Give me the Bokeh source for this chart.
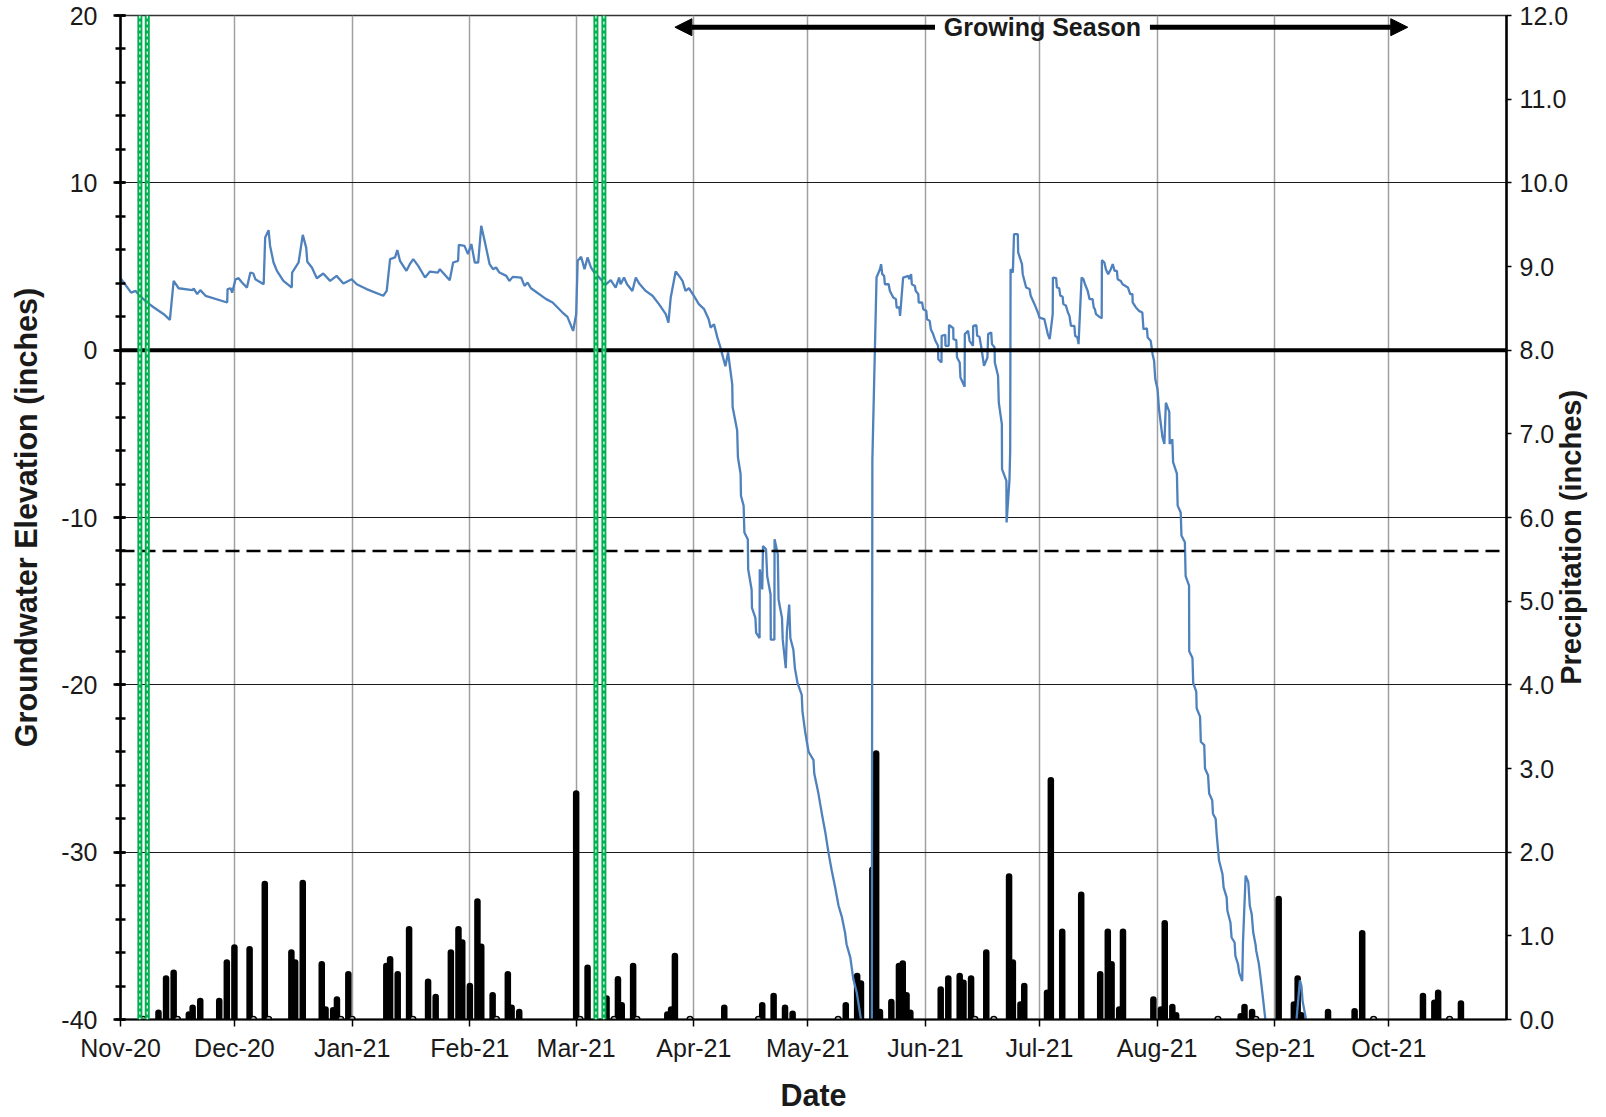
import math
import pandas as pd
from bokeh.plotting import figure
from bokeh.models import (Range1d, LinearAxis, FixedTicker, DatetimeTickFormatter,
                          NumeralTickFormatter, Span, Arrow, NormalHead, Label,
                          ColumnDataSource)
from bokeh.embed import file_html
from bokeh.resources import INLINE

# ---------------- data ----------------
START = pd.Timestamp("2020-11-01")
END = pd.Timestamp("2021-11-01")
month_ticks = ["2020-11-01", "2020-12-01", "2021-01-01", "2021-02-01", "2021-03-01",
               "2021-04-01", "2021-05-01", "2021-06-01", "2021-07-01", "2021-08-01",
               "2021-09-01", "2021-10-01"]
gw_ticks = [-40, -30, -20, -10, 0, 10, 20]
precip_ticks = [0, 1, 2, 3, 4, 5, 6, 7, 8, 9, 10, 11, 12]

# groundwater elevation (inches), day offset from 2020-11-01
gw_day = [0, 2.8, 4.0, 5.1, 7.0, 8.8, 11.4, 13.0, 14.0, 15.3, 18.9, 19.3, 20.2, 21.0, 22.4,
          28.1, 28.2, 29.0, 29.4, 30.3, 31.1, 32.0, 33.3, 34.2, 35.0, 35.5, 37.7, 38.1, 39.0,
          39.4, 40.3, 41.2, 42.9, 45.1, 45.2, 46.9, 48.0, 48.9, 49.2, 50.4, 51.7, 53.4, 55.2,
          56.9, 58.7, 60.9, 62.2, 64.8, 69.2, 70.1, 71.0, 72.3, 72.9, 73.6, 75.3, 76.2, 77.1,
          78.4, 80.2, 81.5, 83.6, 84.1, 86.7, 87.6, 88.9, 89.1, 90.6, 91.5, 92.4, 93.3, 94.2,
          95.0, 95.9, 97.2, 98.1, 98.9, 99.8, 101.6, 102.4, 103.3, 105.5, 106.4, 107.2, 108.1,
          112.1, 113.8, 116.4, 117.7, 119.2, 120.0, 120.4, 121.3, 122.2, 123.0, 123.9, 124.8,
          126.9, 127.4, 129.1, 130.4, 131.3, 131.7, 132.6, 133.4, 134.8, 135.7, 136.6, 138.3,
          140.1, 141.8, 143.6, 144.3, 144.9, 146.2, 147.1, 148.0, 148.8, 149.7, 151.0, 152.3,
          153.7, 154.9, 155.4, 156.3, 157.2, 158.0, 159.3, 160.0, 161.1, 161.2, 162.4, 162.6,
          163.3, 163.4, 164.1, 164.3, 165.2, 165.3, 166.2, 166.3, 167.2, 167.4, 168.3, 168.35,
          169.0, 169.2, 170.0, 170.3, 171.2, 171.25, 172.2, 172.25, 173.1, 173.3, 174.2, 174.4,
          175.2, 175.5, 176.1, 176.4, 177.2, 177.6, 178.3, 179.4, 179.6, 180.3, 181.2, 182.5,
          182.7, 183.8, 184.7, 185.6, 186.5, 187.3, 188.2, 189.1, 190.0, 190.8, 191.2, 192.2,
          193.0, 193.9, 195.0, 196.0, 197.85, 198.0, 199.1, 200.0, 200.3, 200.6, 201.1, 201.3,
          202.3, 202.6, 203.5, 204.2, 204.4, 205.1, 205.3, 206.1, 207.5, 207.7, 208.2, 208.4,
          209.2, 209.4, 210.1, 210.2, 211.1, 211.4, 212.2, 212.4, 213.1, 213.4, 214.0, 214.6,
          215.3, 215.35, 216.2, 216.25, 217.2, 217.25, 218.1, 218.2, 219.3, 219.35, 220.1,
          220.3, 221.0, 221.2, 222.3, 222.35, 223.2, 223.6, 224.5, 224.55, 225.4, 225.6, 226.2,
          226.7, 227.4, 228.3, 228.5, 229.3, 229.5, 230.2, 230.25, 231.1, 231.3, 232.1, 232.15,
          233.3, 233.35, 234.1, 234.3, 234.4, 235.0, 235.3, 236.3, 236.4, 237.4, 237.6, 238.5,
          239.4, 239.7, 240.7, 241.6, 242.0, 243.3, 244.2, 244.7, 245.5, 245.55, 246.4, 246.6,
          247.2, 247.5, 248.1, 248.3, 249.0, 249.5, 249.9, 250.3, 251.2, 251.4, 252.0, 252.3,
          253.1, 253.6, 254.0, 254.7, 255.2, 256.0, 256.3, 256.6, 256.9, 257.8, 258.4, 258.45,
          259.1, 259.5, 260.1, 260.8, 261.3, 261.8, 262.4, 262.6, 263.4, 263.9, 265.3, 265.9,
          266.5, 266.55, 267.4, 268.2, 269.1, 269.4, 270.3, 270.5, 271.3, 271.8, 272.2, 272.5,
          273.1, 273.5, 274.4, 274.9, 275.3, 276.2, 276.3, 277.0, 277.2, 278.2, 278.4, 279.2,
          279.4, 280.3, 280.5, 281.4, 281.45, 282.3, 282.5, 283.3, 283.4, 284.3, 284.5, 285.4,
          285.6, 286.4, 286.7, 287.5, 287.7, 288.4, 288.7, 289.3, 290.2, 290.5, 291.3, 291.5,
          292.3, 292.6, 293.4, 293.6, 294.3, 294.6, 295.4, 295.6, 296.3, 297.0, 297.4, 297.9,
          298.3, 298.9, 299.1, 299.8, 300.3, 300.7, 301.5, 302.5, 309.5, 309.7, 310.6, 311.0,
          311.3, 311.8, 312.2, 312.5]
gw_value = [4.3, 3.44, 3.54, 3.24, 2.85, 2.55, 2.15, 1.81, 4.14, 3.7, 3.59, 3.68, 3.35, 3.59, 3.25,
            2.85, 3.65, 3.7, 3.44, 4.24, 4.3, 4.04, 3.74, 4.64, 4.58, 4.24, 3.94, 6.73, 7.17,
            6.23, 5.24, 4.74, 4.14, 3.74, 4.64, 5.24, 6.89, 6.13, 5.28, 4.94, 4.3, 4.58, 4.14,
            4.44, 3.98, 4.24, 3.94, 3.65, 3.25, 3.54, 5.44, 5.54, 5.98, 5.34, 4.74, 5.14, 5.44,
            5.04, 4.34, 4.7, 4.64, 4.84, 4.18, 5.24, 5.34, 6.29, 6.23, 5.74, 6.34, 5.24, 5.24,
            7.43, 6.53, 5.14, 4.84, 4.94, 4.64, 4.44, 4.14, 4.38, 4.34, 3.84, 4.04, 3.7,
            3.05, 2.85, 2.25, 1.99, 1.15, 2.15, 5.34, 5.58, 4.84, 5.54, 4.94, 4.64,
            4.14, 3.84, 4.18, 3.74, 4.34, 3.94, 4.34, 3.94, 3.54, 4.34, 3.98, 3.54,
            3.25, 2.75, 2.15, 1.65, 3.15, 4.7, 4.44, 4.14, 3.54, 3.7, 3.25, 2.75,
            2.45, 1.85, 1.35, 1.55, 0.75, 0.15, -0.96, -0.14, -2.05, -3.4, -4.8, -6.4,
            -7.4, -8.7, -9.3, -10.9, -11.3, -13.1, -14.3, -15.4, -16.0, -16.9, -17.2, -13.1,
            -14.3, -11.7, -11.9, -13.5, -14.6, -17.3, -17.3, -11.3, -12.2, -14.9, -16.0, -17.3,
            -19.0, -16.8, -15.2, -17.2, -17.9, -19.0, -19.9, -20.6, -21.6, -22.8, -24.0, -24.5,
            -25.3, -26.5, -27.7, -28.8, -30.1, -31.1, -32.1, -33.2, -33.9, -34.8, -35.5, -36.3,
            -37.6, -38.4, -40.0, -42.0, -42.0, -6.6, 4.34, 4.84, 5.14, 4.54, 4.44, 3.94,
            3.94, 3.55, 3.15, 3.05, 2.55, 2.55, 2.05, 4.34, 4.44, 4.24, 4.54, 3.94,
            3.84, 3.55, 3.35, 2.85, 2.85, 2.45, 2.35, 1.85, 1.75, 1.25, 0.96, 0.56,
            0.26, -0.54, -0.74, 0.86, 0.92, 0.26, 0.26, 1.51, 1.31, 0.66, 0.6,
            -0.44, -0.74, -1.63, -2.19, 0.96, 1.16, 0.56, 0.26, 1.45, 1.49, 0.86, 0.8,
            0.16, -0.94, -0.44, 0.96, 1.06, 0.36, 0.16, -0.74, -1.53, -3.13, -4.42, -7.11,
            -7.81, -10.3, -7.8, -6.0, 4.84, 4.64, 6.93, 6.93, 5.84, 5.14, 4.54, 3.75,
            3.65, 3.25, 2.75, 2.25, 1.95, 1.85, 0.96, 0.66, 2.15, 4.34, 4.3, 3.75,
            3.7, 3.25, 3.2, 2.75, 2.65, 2.25, 2.05, 1.45, 1.45, 0.86, 0.76, 0.36,
            4.34, 4.24, 3.94, 3.55, 3.05, 3.05, 2.55, 2.45, 2.15, 1.99, 1.91, 5.38,
            5.24, 4.84, 4.54, 4.84, 5.14, 4.74, 4.74, 4.24, 4.14, 3.94, 3.75, 3.35,
            3.35, 2.85, 2.55, 2.35, 2.25, 1.25, 1.31, 0.76, 0.56, -0.24, -0.64, -1.73,
            -2.33, -3.55, -5.2, -5.6, -3.14, -3.69, -5.6, -5.33, -6.69, -7.38, -9.29, -9.7,
            -11.07, -11.48, -13.5, -14.07, -18.0, -18.4, -19.9, -20.4, -21.4, -21.9, -23.4, -23.6,
            -25.0, -25.4, -26.5, -26.9, -27.7, -28.0, -29.0, -30.5, -31.3, -32.1, -32.7, -33.5,
            -34.2, -35.1, -35.4, -36.2, -36.7, -37.2, -37.7, -35.4, -31.4, -31.8, -33.2, -33.7,
            -34.8, -35.5, -35.9, -36.7, -37.6, -38.4, -40.0, -42.0, -42.0, -40.0, -37.66, -38.0,
            -38.9, -39.5, -40.0, -40.6]

# daily precipitation (inches), day offset from 2020-11-01
precip_day = [10, 12, 14, 18, 19, 21, 26, 28, 30, 34, 38, 45, 46, 48, 53, 54, 56, 57, 60,
              70, 71, 73, 76, 81, 83, 87, 89, 90, 92, 94, 95, 98, 102, 103, 105, 120, 123,
              128, 131, 132, 135, 144, 145, 146, 159, 169, 172, 175, 177, 191, 194, 195, 198,
              199, 200, 203, 205, 206, 207, 208, 216, 218, 221, 222, 224, 228, 234, 235, 237,
              238, 244, 245, 248, 253, 258, 260, 261, 263, 264, 272, 274, 275, 277, 278, 295,
              296, 298, 305, 309, 310, 311, 318, 325, 327, 343, 346, 347, 353]
precip_in = [0.08, 0.49, 0.56, 0.06, 0.14, 0.22, 0.22, 0.68, 0.86, 0.84, 1.62, 0.80, 0.68, 1.63,
             0.66, 0.12, 0.11, 0.24, 0.54, 0.64, 0.72, 0.54, 1.08, 0.45, 0.27, 0.80, 1.08, 0.92,
             0.40, 1.41, 0.87, 0.29, 0.54, 0.14, 0.09, 2.70, 0.62, 0.25, 0.48, 0.17, 0.64, 0.06,
             0.12, 0.76, 0.14, 0.17, 0.28, 0.14, 0.07, 0.17, 0.52, 0.43, 1.79, 3.18, 0.09, 0.21,
             0.64, 0.67, 0.29, 0.08, 0.36, 0.49, 0.52, 0.44, 0.49, 0.80, 1.71, 0.68, 0.18, 0.40,
             0.32, 2.86, 1.05, 1.49, 0.54, 1.05, 0.66, 0.12, 1.05, 0.24, 0.12, 1.15, 0.15, 0.05,
             0.04, 0.15, 0.09, 1.44, 0.18, 0.49, 0.05, 0.09, 0.10, 1.03, 0.28, 0.20, 0.32, 0.19]
# days with a zero/trace reading (small open markers on the baseline)
trace_day = [6, 15, 35, 39, 58, 61, 77, 99, 121, 130, 136, 150, 168, 189, 225, 230, 289, 299,
             330, 350]

# green double marker lines (day offsets)
marker_day = [5.1, 7.05, 125.2, 127.3]
# growing season
growing_season = ["2021-03-27", "2021-10-06"]
GROWING_LABEL = "Growing Season"
RIGHT_TITLE = "Precipitation (inches)"

# ---------------- layout constants ----------------
ARROW_Y = 19.3
TEXT_GAP_DAYS = [214.5, 271.1]      # where the arrows stop either side of the label
RIGHT_TITLE_START = 4                # precip level where the bottom-to-top title starts
FONT = "Liberation Sans"
TICK_FS = "25px"
TITLE_FS = "30.5px"
RIGHT_TITLE_FS = "29px"


def to_dt(days):
    return START + pd.to_timedelta(pd.Series(days, dtype=float), unit="D")


def to_ms(ts):
    return pd.Timestamp(ts).value / 1e6


gw = ColumnDataSource(dict(x=to_dt(gw_day), y=gw_value))
pr = ColumnDataSource(dict(x=to_dt(precip_day), y0=[0] * len(precip_in), y=precip_in))
tr = ColumnDataSource(dict(x=to_dt(trace_day), y=[0] * len(trace_day)))

p = figure(width=1606, height=1114, x_axis_type="datetime",
           x_range=Range1d(START, END), y_range=Range1d(-40, 20),
           output_backend="svg", toolbar_location=None,
           min_border_left=120, min_border_right=100, min_border_top=15, min_border_bottom=95)
p.extra_y_ranges = {"precip": Range1d(0, 12)}
p.background_fill_color = "white"
p.outline_line_color = "#333333"
p.outline_line_width = 1.5

month_ms = [to_ms(m) for m in month_ticks]

# grids
p.xgrid.ticker = FixedTicker(ticks=month_ms)
p.xgrid.grid_line_color = "#a0a0a0"
p.xgrid.grid_line_width = 1.5
p.ygrid.ticker = FixedTicker(ticks=[t for t in gw_ticks if t not in (0, 20, -40)])
p.ygrid.grid_line_color = "#1a1a1a"
p.ygrid.grid_line_width = 1

# x axis
xa = p.xaxis[0]
xa.ticker = FixedTicker(ticks=month_ms)
fmt = "%b-%y"
xa.formatter = DatetimeTickFormatter(milliseconds=fmt, seconds=fmt, minsec=fmt, minutes=fmt,
                                     hourmin=fmt, hours=fmt, days=fmt, months=fmt, years=fmt)
xa.axis_line_width = 2
xa.major_tick_line_width = 1.5
xa.major_tick_out = 7
xa.major_tick_in = 0
xa.minor_tick_line_color = None
xa.major_label_text_font = FONT
xa.major_label_text_font_size = TICK_FS
xa.major_label_text_color = "#1a1a1a"
xa.major_label_standoff = 7
xa.axis_label = "Date"
xa.axis_label_text_font = FONT
xa.axis_label_text_font_size = TITLE_FS
xa.axis_label_text_font_style = "bold"
xa.axis_label_text_color = "#1a1a1a"
xa.axis_label_standoff = 13

# left axis
ya = p.yaxis[0]
ya.ticker = FixedTicker(ticks=gw_ticks, minor_ticks=list(range(-40, 21, 2)))
ya.major_label_overrides = {t: str(t) for t in gw_ticks}
ya.axis_line_width = 2.5
ya.major_tick_line_width = 2.5
ya.minor_tick_line_width = 2.5
ya.major_tick_out = 7
ya.major_tick_in = 5
ya.minor_tick_out = 5
ya.minor_tick_in = 5
ya.major_label_text_font = FONT
ya.major_label_text_font_size = TICK_FS
ya.major_label_text_color = "#1a1a1a"
ya.major_label_standoff = 16
ya.axis_label = "Groundwater Elevation (inches)"
ya.axis_label_text_font = FONT
ya.axis_label_text_font_size = TITLE_FS
ya.axis_label_text_font_style = "bold"
ya.axis_label_text_color = "#1a1a1a"
ya.axis_label_standoff = 15

# right axis (precipitation)
ra = LinearAxis(y_range_name="precip",
                ticker=FixedTicker(ticks=precip_ticks),
                formatter=NumeralTickFormatter(format="0.0"))
ra.axis_line_width = 2.5
ra.major_tick_line_width = 1.5
ra.major_tick_out = 5
ra.major_tick_in = 0
ra.minor_tick_line_color = None
ra.major_label_text_font = FONT
ra.major_label_text_font_size = TICK_FS
ra.major_label_text_color = "#1a1a1a"
ra.major_label_standoff = 8
p.add_layout(ra, "right")

# right-axis title, reading bottom to top (drawn as a single rotated label on a bare axis)
rt = LinearAxis(y_range_name="precip", ticker=FixedTicker(ticks=[RIGHT_TITLE_START]),
                major_label_overrides={RIGHT_TITLE_START: RIGHT_TITLE})
rt.axis_line_color = None
rt.major_tick_line_color = None
rt.minor_tick_line_color = None
rt.major_tick_out = 0
rt.major_tick_in = 0
rt.major_label_orientation = math.pi / 2
rt.major_label_standoff = 0
rt.major_label_text_font = FONT
rt.major_label_text_font_size = RIGHT_TITLE_FS
rt.major_label_text_font_style = "bold"
rt.major_label_text_color = "#1a1a1a"
p.add_layout(rt, "right")

# reference lines
p.add_layout(Span(location=0, dimension="width", line_color="black", line_width=4))
p.add_layout(Span(location=-12, dimension="width", line_color="black", line_width=2.5,
                  line_dash="14 7"))

# precipitation bars
p.segment(x0="x", y0="y0", x1="x", y1="y", source=pr, line_color="black", line_width=6.5,
          line_cap="round", y_range_name="precip")
p.scatter(x="x", y="y", source=tr, marker="circle", size=6, fill_color="white",
          line_color="black", line_width=1.5, y_range_name="precip")

# green marker lines
for d in marker_day:
    loc = to_ms(START + pd.Timedelta(days=d))
    p.add_layout(Span(location=loc, dimension="height", line_color="#00b050", line_width=5))
    p.add_layout(Span(location=loc, dimension="height", line_color="white", line_width=1.2,
                      line_dash="3 3"))

# groundwater line
p.line(x="x", y="y", source=gw, line_color="#4f81bd", line_width=2.3)

# growing season arrows
gs0, gs1 = to_ms(growing_season[0]), to_ms(growing_season[1])
g0 = to_ms(START + pd.Timedelta(days=TEXT_GAP_DAYS[0]))
g1 = to_ms(START + pd.Timedelta(days=TEXT_GAP_DAYS[1]))
for xs, xe in [(g0, gs0), (g1, gs1)]:
    p.add_layout(Arrow(x_start=xs, y_start=ARROW_Y, x_end=xe, y_end=ARROW_Y,
                       line_color="black", line_width=5,
                       end=NormalHead(size=17, fill_color="black", line_color="black")))
p.add_layout(Label(x=(g0 + g1) / 2, y=ARROW_Y, text=GROWING_LABEL, text_align="center",
                   text_baseline="middle", text_font=FONT, text_font_size="25px",
                   text_font_style="bold", text_color="#1a1a1a"))

open("out.html", "w").write(file_html(p, INLINE))
